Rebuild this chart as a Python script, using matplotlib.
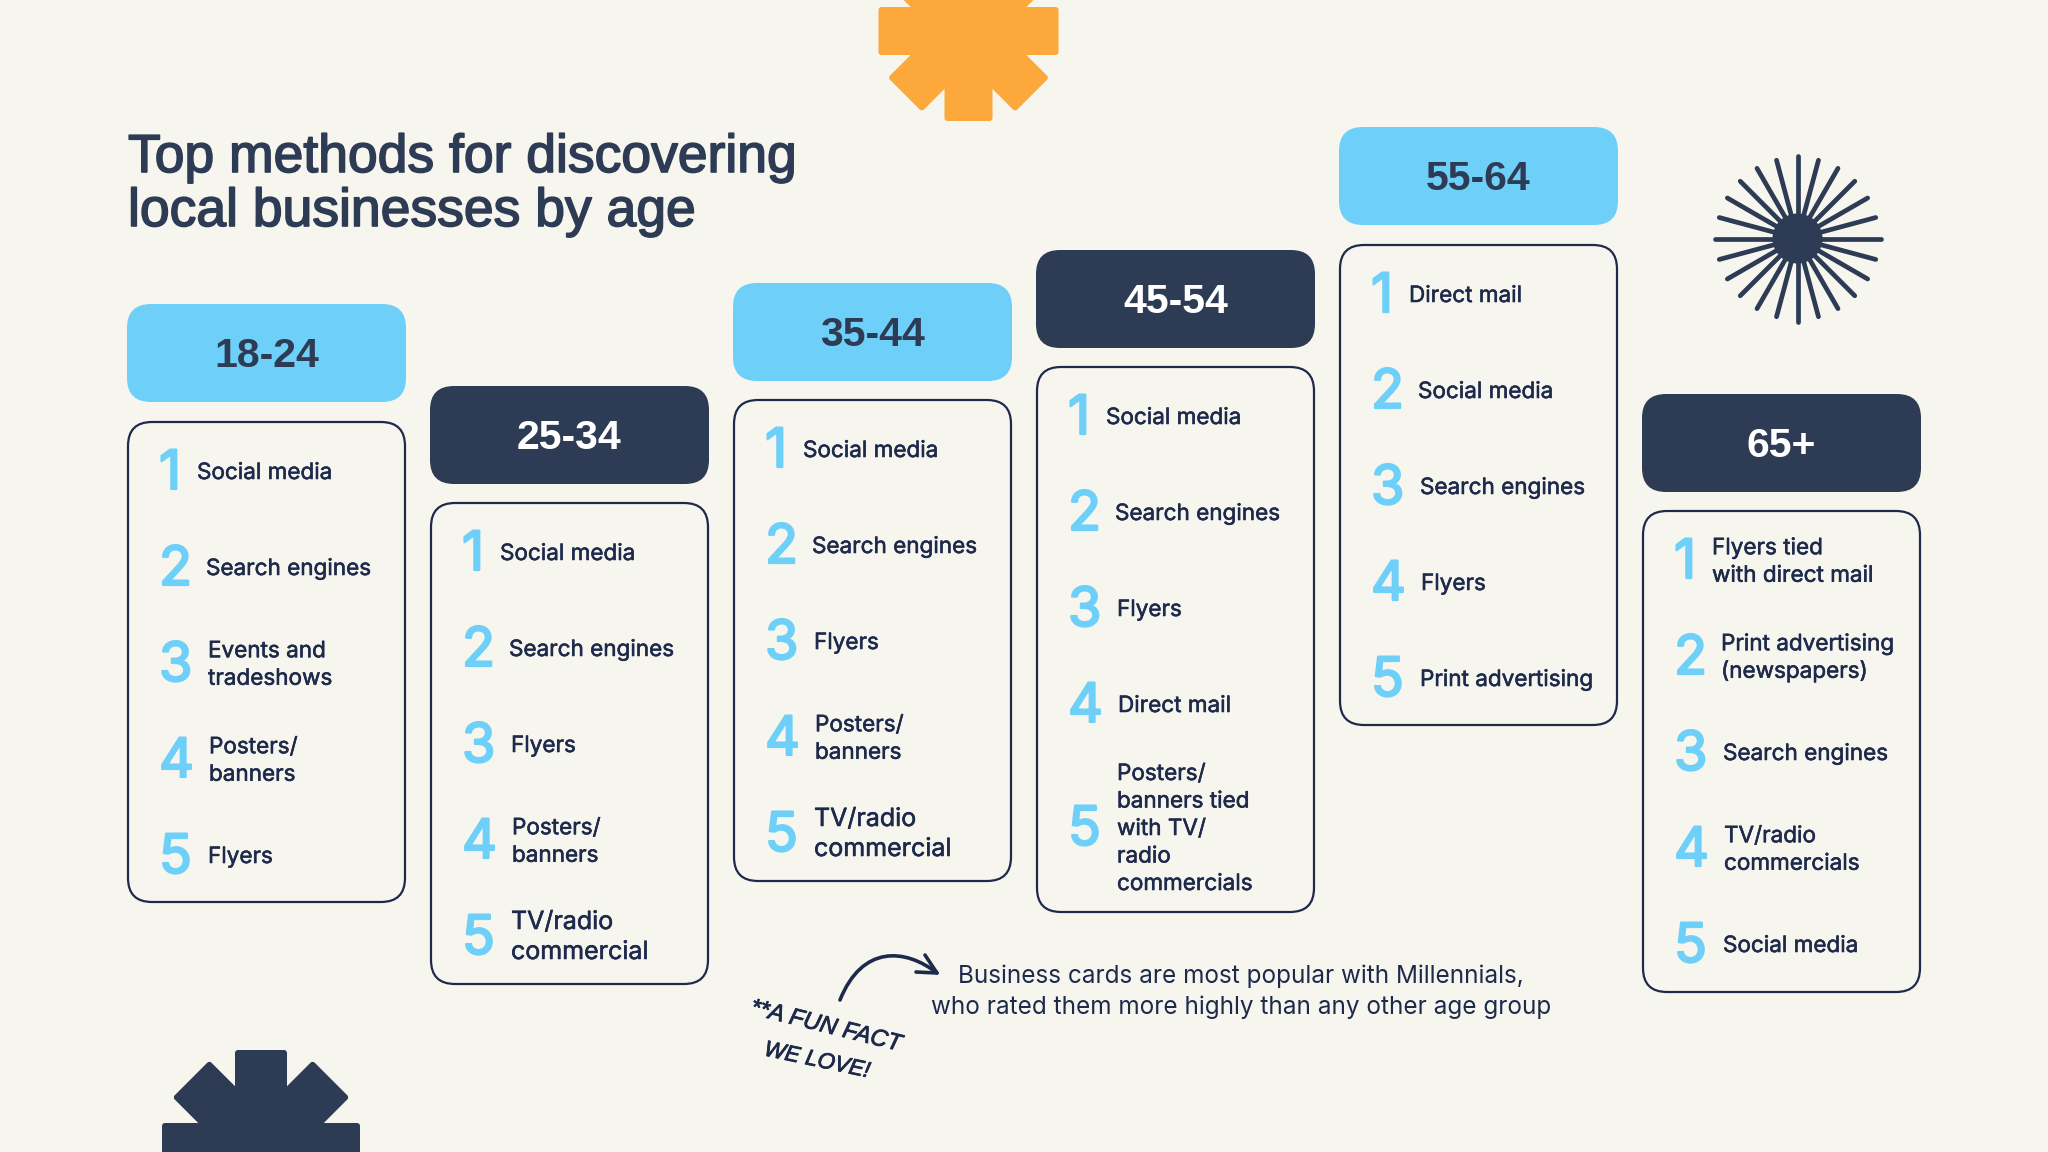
#Top methods infographic, everything is laid out in pixel coords of the 2048x1152 picture

import numpy as np
import matplotlib
matplotlib.use('Agg')
import matplotlib.pyplot as plt
import matplotlib.patheffects as pe
from matplotlib.patches import FancyBboxPatch, Circle, PathPatch
from matplotlib.path import Path
from matplotlib.transforms import Affine2D

ages = ['18-24', '25-34', '35-44', '45-54', '55-64', '65+']
methods_18 = ['Social media', 'Search engines', 'Events and\ntradeshows', 'Posters/\nbanners', 'Flyers']
methods_25 = ['Social media', 'Search engines', 'Flyers', 'Posters/\nbanners', 'TV/radio\ncommercial']
methods_35 = ['Social media', 'Search engines', 'Flyers', 'Posters/\nbanners', 'TV/radio\ncommercial']
methods_45 = ['Social media', 'Search engines', 'Flyers', 'Direct mail',
              'Posters/\nbanners tied\nwith TV/\nradio\ncommercials']
methods_55 = ['Direct mail', 'Social media', 'Search engines', 'Flyers', 'Print advertising']
methods_65 = ['Flyers tied\nwith direct mail', 'Print advertising\n(newspapers)', 'Search engines',
              'TV/radio\ncommercials', 'Social media']
methods = [methods_18, methods_25, methods_35, methods_45, methods_55, methods_65]

title_lines = ['Top methods for discovering', 'local businesses by age']
note_lines = ['Business cards are most popular with Millennials,',
              'who rated them more highly than any other age group']

# layout, px
col_left = [127, 430, 733, 1036, 1339, 1642]
col_w = 279
head_top = [304, 386, 283, 250, 127, 394]
head_h = 98
card_top = [422, 503, 400, 367, 245, 511]
card_bot = [902, 984, 881, 912, 725, 992]
text_dx = [70, 79, 81, 82, 81]

bg = '#F7F6EE'
navy = '#2D3B55'
ink = '#1E2A4C'
sky = '#6ECFF8'
orange = '#FCA83A'

fig = plt.figure(figsize=(20.48, 11.52), dpi=100, facecolor=bg)
ax = fig.add_axes([0, 0, 1, 1])
ax.set_xlim(0, 2048)
ax.set_ylim(1152, 0)
ax.axis('off')


def box(x, y, w, h, r, **kw):
    p = FancyBboxPatch((x + r, y + r), w - 2 * r, h - 2 * r, boxstyle='round,pad=%g,rounding_size=%g' % (r, r), **kw)
    ax.add_patch(p)
    return p


def star(cx, cy, length, half, color):
    for a in range(0, 180, 45):
        p = box(cx - length, cy - half, 2 * length, 2 * half, 3, fc=color, ec='none')
        p.set_transform(Affine2D().rotate_deg_around(cx, cy, a) + ax.transData)


star(968.5, 31, 90, 24, orange)
star(261, 1149, 99, 26, navy)

# burst
for a in np.arange(0, 360, 15):
    t = np.radians(a)
    r = 83 if a % 90 == 0 else 81
    ax.plot([1797.5, 1797.5 + r * np.cos(t)], [238.5, 238.5 + r * np.sin(t)], color=navy, lw=3.4,
            solid_capstyle='round')
ax.add_patch(Circle((1797.5, 238.5), 25, fc=navy, ec='none'))

# title
for i, line in enumerate(title_lines):
    ax.text(128, 172 + i * 54, line, family='Liberation Sans', fontsize=38.5, color=navy, va='baseline',
            path_effects=[pe.withStroke(linewidth=1.2, foreground=navy)])

for c, age in enumerate(ages):
    x = col_left[c]
    dark = c % 2 == 1
    box(x, head_top[c], col_w, head_h, 24, fc=navy if dark else sky, ec='none')
    ax.text(x + col_w / 2, head_top[c] + head_h / 2 + 14, age, family='Liberation Sans', fontsize=29.5,
            fontweight='bold', ha='center', va='baseline', color='white' if dark else navy)
    box(x + 1, card_top[c], col_w - 2, card_bot[c] - card_top[c], 24, fc='none', ec=ink, lw=1.6)

    for k, item in enumerate(methods[c]):
        lines = item.split('\n')
        y = card_top[c] + 48 + k * 96
        if len(lines) > 2:
            y += 27
        big = item.endswith('commercial')
        ax.text(x + 32, y + 19, str(k + 1), family='Inter', fontsize=39, color=sky, ha='left', va='baseline',
                path_effects=[pe.withStroke(linewidth=1.6, foreground=sky)])
        pitch = 30 if big else 27.5
        for j, line in enumerate(lines):
            ax.text(x + text_dx[k], y + (j - (len(lines) - 1) / 2) * pitch + 9, line, family='Inter',
                    fontsize=18.0 if big else 16.2, color=ink, ha='left', va='baseline',
                    path_effects=[pe.withStroke(linewidth=0.4, foreground=ink)])

# note
for i, line in enumerate(note_lines):
    ax.text(1241, 976 + i * 31 + 7, line, family='Inter', fontsize=17.5, color=ink, ha='center', va='baseline')

ax.text(826, 1026, '**A FUN FACT', family='Liberation Sans', style='italic', fontsize=17,
        color=ink, rotation=-14, rotation_mode='anchor', ha='center', va='center',
        path_effects=[pe.withStroke(linewidth=0.6, foreground=ink)])
ax.text(817, 1061, 'WE LOVE!', family='Liberation Sans', style='italic', fontsize=16,
        color=ink, rotation=-12, rotation_mode='anchor', ha='center', va='center',
        path_effects=[pe.withStroke(linewidth=0.6, foreground=ink)])

# arrow
curve = Path([(840, 1000), (862, 945), (905, 948), (937, 973)], [Path.MOVETO, Path.CURVE4, Path.CURVE4, Path.CURVE4])
ax.add_patch(PathPatch(curve, fc='none', ec=ink, lw=2.6, capstyle='round'))
ax.plot([925, 937, 916], [955, 973, 972], color=ink, lw=2.6, solid_capstyle='round', solid_joinstyle='round')

fig.savefig('out.png', dpi=100, facecolor=bg)
